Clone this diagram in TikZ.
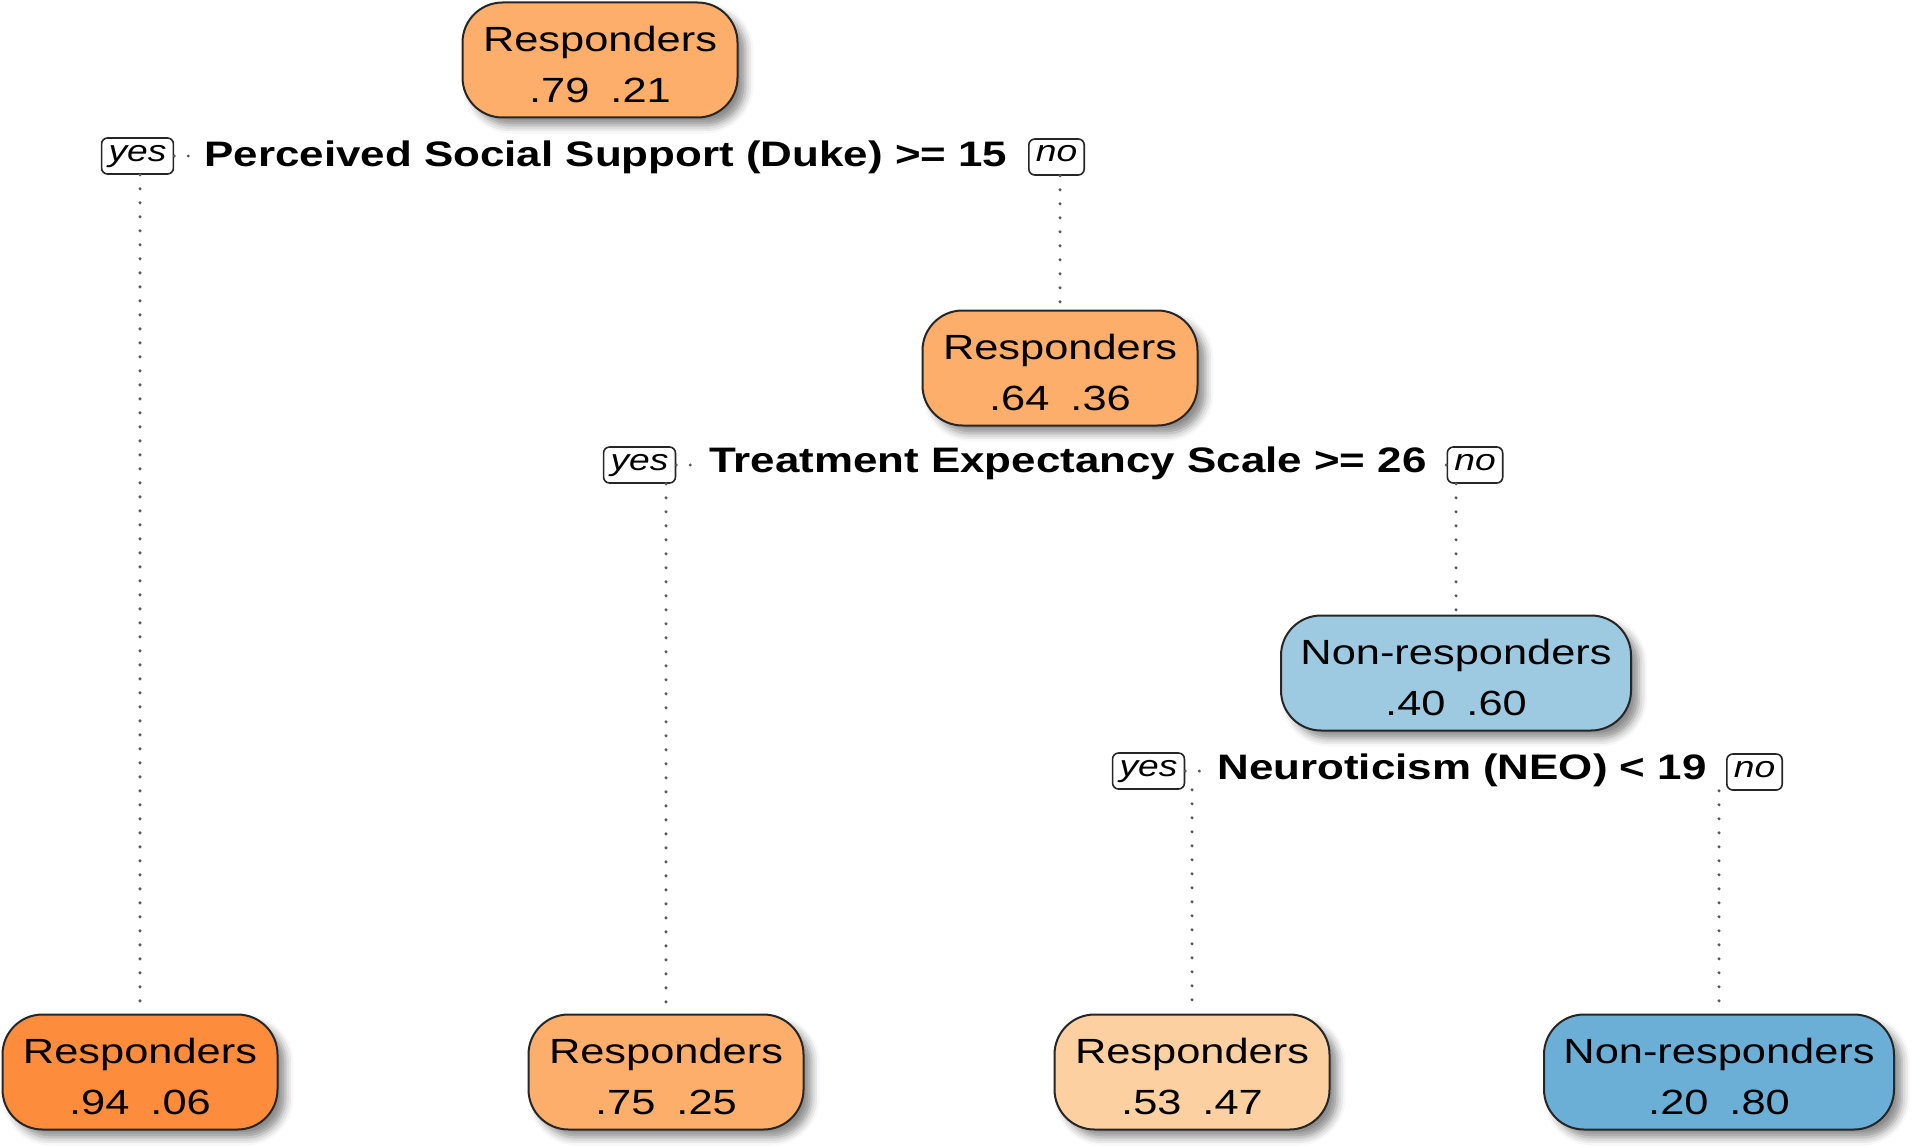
\documentclass[tikz,border=0pt]{standalone}
\usepackage{fontspec}
\setmainfont{Liberation Sans}[FakeStretch=1.24]
\usetikzlibrary{shadows.blur}
\definecolor{orA}{HTML}{FDAE6B}
\definecolor{orB}{HTML}{FD8D3C}
\definecolor{orC}{HTML}{FDD0A2}
\definecolor{blA}{HTML}{9ECAE1}
\definecolor{blB}{HTML}{6BAED6}
\begin{document}
\begin{tikzpicture}[x=0.5pt,y=-0.5pt,
  tnode/.style={draw=black!85, line width=1pt, rounded corners=20pt,
    minimum height=57.5pt, align=center, inner sep=0pt,
    font=\fontsize{17.5}{25.5}\selectfont,
    blur shadow={shadow xshift=4pt, shadow yshift=-4pt, shadow blur radius=4pt, shadow opacity=45}},
  resp/.style={tnode, minimum width=137.5pt},
  nonresp/.style={tnode, minimum width=175pt},
  splitlab/.style={font=\fontsize{17.7}{22}\bfseries\selectfont, fill=white, inner xsep=7pt, inner ysep=1pt},
  yn/.style={draw=black!85, line width=0.8pt, rounded corners=3pt, fill=white,
    font=\fontsize{15}{17}\itshape\selectfont, inner xsep=3.5pt, inner ysep=3.5pt,
    text height=8pt, text depth=3pt},
  conn/.style={black!65, line width=1.7pt, line cap=round, dash pattern=on 0pt off 7pt}
]
\useasboundingbox (0,0) rectangle (1920,1145);

% nodes
\node[resp, fill=orA] (root) at (600,60) {\\[-8pt]Responders\\.79\hspace{0.6em}.21};
\node[resp, fill=orA] (n2) at (1060,368) {\\[-8pt]Responders\\.64\hspace{0.6em}.36};
\node[nonresp, fill=blA] (n3) at (1456,673) {\\[-8pt]Non-responders\\.40\hspace{0.6em}.60};
\node[resp, fill=orB] (l1) at (140,1072) {\\[-8pt]Responders\\.94\hspace{0.6em}.06};
\node[resp, fill=orA] (l2) at (666,1072) {\\[-8pt]Responders\\.75\hspace{0.6em}.25};
\node[resp, fill=orC] (l3) at (1192,1072) {\\[-8pt]Responders\\.53\hspace{0.6em}.47};
\node[nonresp, fill=blB] (l4) at (1719,1072) {\\[-8pt]Non-responders\\.20\hspace{0.6em}.80};

% yes/no boxes
\node[yn] (y1) at (137.5,156) {yes};
\node[yn] (no1) at (1056.5,157) {no};
\node[yn] (y2) at (639.5,465) {yes};
\node[yn] (no2) at (1475,465) {no};
\node[yn] (y3) at (1148.5,771) {yes};
\node[yn] (no3) at (1754.5,772) {no};

% connectors
\draw[conn] (y1.east) -- (no1.west);
\draw[conn] (y2.east) -- (no2.west);
\draw[conn] (y3.east) -- (no3.west);
\draw[conn] (y1.south -| l1.north) -- (l1.north);
\draw[conn] (no1.south -| n2.north) -- (n2.north);
\draw[conn] (y2.south -| l2.north) -- (l2.north);
\draw[conn] (no2.south -| n3.north) -- (n3.north);
\draw[conn] (y3.south -| l3.north) -- (l3.north);
\draw[conn] (no3.south -| l4.north) -- (l4.north);

% split labels
\node[splitlab] (s1) at (606,157) {Perceived Social Support (Duke) >= 15};
\node[splitlab] (s2) at (1068,463) {Treatment Expectancy Scale >= 26};
\node[splitlab] (s3) at (1462,770) {Neuroticism (NEO) < 19};
\end{tikzpicture}
\end{document}
